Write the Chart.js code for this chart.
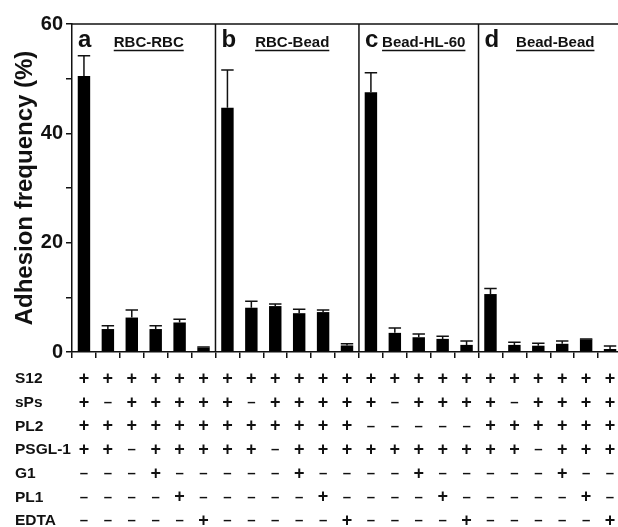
<!DOCTYPE html>
<html>
<head>
<meta charset="utf-8">
<script src="https://cdn.jsdelivr.net/npm/chart.js@4.4.1/dist/chart.umd.min.js"></script>
<style>
html,body{margin:0;padding:0;background:#fff;overflow:hidden;width:618px;height:527px;}
canvas{display:block;}
</style>
</head>
<body>
<canvas id="c" width="625" height="527"></canvas>
<script>
// ---- data ----
const categories = ['a1','a2','a3','a4','a5','a6','b1','b2','b3','b4','b5','b6','c1','c2','c3','c4','c5','d1','d2','d3','d4','d5','d6'];
const panelLetters = ['a','b','c','d'];
const panelNames = ['RBC-RBC','RBC-Bead','Bead-HL-60','Bead-Bead'];
const panelSizes = [6,6,5,6];
const meanA = [50.5, 4.2, 6.3, 4.2, 5.4, 0.8];
const errA  = [3.7, 0.6, 1.4, 0.6, 0.6, 0.1];
const meanB = [44.7, 8.1, 8.4, 7.1, 7.3, 1.2];
const errB  = [6.9, 1.2, 0.4, 0.7, 0.4, 0.3];
const meanC = [47.5, 3.5, 2.7, 2.4, 1.3];
const errC  = [3.6, 0.9, 0.6, 0.5, 0.7];
const meanD = [10.6, 1.3, 1.15, 1.5, 2.3, 0.55];
const errD  = [1.0, 0.5, 0.45, 0.5, 0.1, 0.55];
const yTicks = [0, 20, 40, 60];
const rowLabels = ['S12','sPs','PL2','PSGL-1','G1','PL1','EDTA'];
const rowS12  = '+++++++++++++++++++++++';
const rowSPs  = '+-+++++-+++++-++++-++++';
const rowPL2  = '++++++++++++-----++++++';
const rowPSGL = '++-+++++-++++++++++-+++';
const rowG1   = '---+-----+----+-----+--';
const rowPL1  = '----+-----+----+-----+-';
const rowEDTA = '-----+-----+----+-----+';

const means = meanA.concat(meanB, meanC, meanD);
const errs = errA.concat(errB, errC, errD);
const rows = [rowS12, rowSPs, rowPL2, rowPSGL, rowG1, rowPL1, rowEDTA];

const FONT = "'Liberation Sans', Arial, Helvetica, sans-serif";
const INK = '#111';

const decor = {
  id: 'decor',
  afterDatasetsDraw(chart) {
    const ctx = chart.ctx;
    const x = chart.scales.x, y = chart.scales.y;
    const area = chart.chartArea;
    const meta = chart.getDatasetMeta(0);
    ctx.save();
    // error bars
    ctx.strokeStyle = INK;
    ctx.lineWidth = 1.5;
    meta.data.forEach((bar, i) => {
      const top = y.getPixelForValue(means[i]);
      const et = y.getPixelForValue(means[i] + errs[i]);
      const hw = bar.width / 2;
      ctx.beginPath();
      ctx.moveTo(bar.x, top);
      ctx.lineTo(bar.x, et);
      ctx.moveTo(bar.x - hw, et);
      ctx.lineTo(bar.x + hw, et);
      ctx.stroke();
    });
    // top border
    const yTop = y.getPixelForValue(60);
    ctx.lineWidth = 1.5;
    ctx.beginPath();
    ctx.moveTo(area.left, yTop);
    ctx.lineTo(area.right, yTop);
    ctx.stroke();
    // separators + panel labels
    let start = 0;
    const bounds = [area.left];
    panelSizes.forEach((n) => {
      const end = start + n;
      if (end < categories.length) {
        bounds.push((x.getPixelForValue(end - 1) + x.getPixelForValue(end)) / 2);
      } else {
        bounds.push(area.right);
      }
      start = end;
    });
    for (let p = 1; p < panelSizes.length; p++) {
      ctx.beginPath();
      ctx.moveTo(bounds[p], yTop);
      ctx.lineTo(bounds[p], y.getPixelForValue(0));
      ctx.stroke();
    }
    ctx.fillStyle = INK;
    ctx.textBaseline = 'alphabetic';
    for (let p = 0; p < panelSizes.length; p++) {
      const left = bounds[p];
      const mid = (bounds[p] + bounds[p + 1]) / 2;
      ctx.font = 'bold 24px ' + FONT;
      ctx.textAlign = 'left';
      ctx.fillText(panelLetters[p], left + 6, yTop + 23);
      ctx.font = 'bold 15px ' + FONT;
      ctx.textAlign = 'center';
      const cx = mid + 5;
      ctx.fillText(panelNames[p], cx, yTop + 23);
      const w = ctx.measureText(panelNames[p]).width;
      ctx.lineWidth = 1.3;
      ctx.beginPath();
      ctx.moveTo(cx - w / 2, yTop + 26.5);
      ctx.lineTo(cx + w / 2, yTop + 26.5);
      ctx.stroke();
    }
    // condition table
    const rowY0 = 379, rowDy = 23.7;
    rows.forEach((r, ri) => {
      const ry = rowY0 + ri * rowDy;
      ctx.font = 'bold 15.5px ' + FONT;
      ctx.textAlign = 'left';
      ctx.textBaseline = 'middle';
      ctx.fillText(rowLabels[ri], 15, ry);
      ctx.textAlign = 'center';
      for (let i = 0; i < r.length; i++) {
        const ch = r[i] === '+' ? '+' : '\u2013';
        ctx.font = (r[i] === '+' ? 'bold 18px ' : 'bold 15px ') + FONT;
        ctx.fillText(ch, x.getPixelForValue(i), ry);
      }
    });
    ctx.restore();
  }
};

new Chart(document.getElementById('c'), {
  type: 'bar',
  data: {
    labels: categories,
    datasets: [{
      data: means,
      backgroundColor: '#000',
      borderWidth: 0,
      barPercentage: 0.52,
      categoryPercentage: 1.0
    }]
  },
  options: {
    responsive: false,
    animation: false,
    events: [],
    layout: { padding: { top: 24, right: 3, left: 0, bottom: 0 } },
    plugins: { legend: { display: false }, tooltip: { enabled: false }, title: { display: false } },
    scales: {
      x: {
        grid: { display: true, drawOnChartArea: false, drawTicks: true, tickLength: 6, color: INK, lineWidth: 1.5, offset: true },
        border: { display: true, color: INK, width: 1.5 },
        ticks: { display: false },
        afterFit(s) { s.height = 175; }
      },
      y: {
        min: 0, max: 60,
        afterBuildTicks(s) {
          const t = [];
          for (let v = 0; v <= 60; v += 10) t.push({ value: v });
          s.ticks = t;
        },
        ticks: {
          callback: (v) => yTicks.includes(v) ? String(v) : '',
          font: { family: FONT, size: 20, weight: 'bold' },
          color: INK,
          padding: 3
        },
        grid: { display: true, drawOnChartArea: false, drawTicks: true, tickLength: 6, color: INK, lineWidth: 1.5 },
        border: { display: true, color: INK, width: 1.5 },
        title: {
          display: true,
          text: 'Adhesion frequency (%)',
          font: { family: FONT, size: 24, weight: 'bold' },
          color: INK,
          padding: { top: 11, bottom: 0 }
        },
        afterFit(s) { s.width = 72; }
      }
    }
  },
  plugins: [decor]
});
</script>
</body>
</html>
